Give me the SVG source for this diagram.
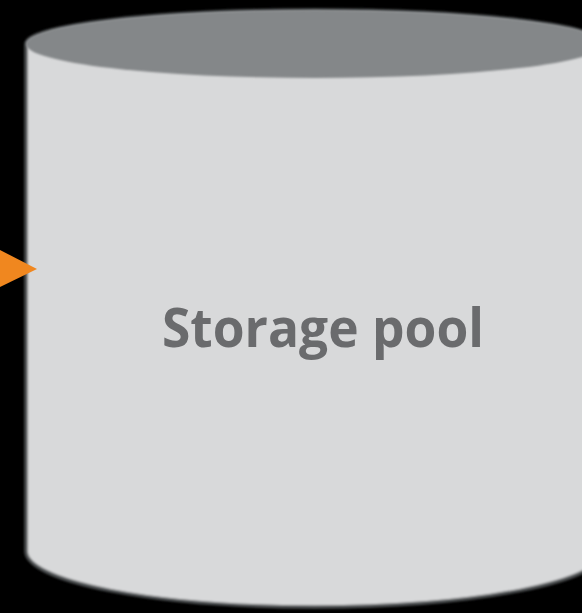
<svg xmlns="http://www.w3.org/2000/svg" width="582" height="613" viewBox="0 0 582 613">
  <defs>
    <style>
      .body { fill: #d8d9da; stroke: #505254; stroke-width: 3.5; }
      .lid { fill: #848789; }
      .label { font-family: "Open Sans", "Noto Sans", "Liberation Sans", sans-serif; font-weight: bold; font-size: 54px; fill: #6a6b6d; }
      .arrow { fill: #f0871f; }
    </style>
    <filter id="soft" x="-5%" y="-5%" width="110%" height="110%">
      <feGaussianBlur stdDeviation="0.8"/>
    </filter>
  </defs>
  <rect width="582" height="613" fill="#000"/>

  <g id="storage-pool">
    <!-- cylinder body: straight sides, curved base, top closed by the lid ellipse -->
    <path class="body" filter="url(#soft)" d="M26,44 L26,551 A289,56 0 0 0 604,551 L604,44 A289,34 0 0 0 26,44 Z"/>
    <ellipse class="lid" filter="url(#soft)" cx="315" cy="44" rx="289" ry="34"/>
    <text class="label" x="162" y="347" textLength="322" lengthAdjust="spacingAndGlyphs">Storage pool</text>
  </g>

  <g id="connectors">
    <polygon class="arrow" points="0,250 37,269 0,287"/>
  </g>
</svg>
